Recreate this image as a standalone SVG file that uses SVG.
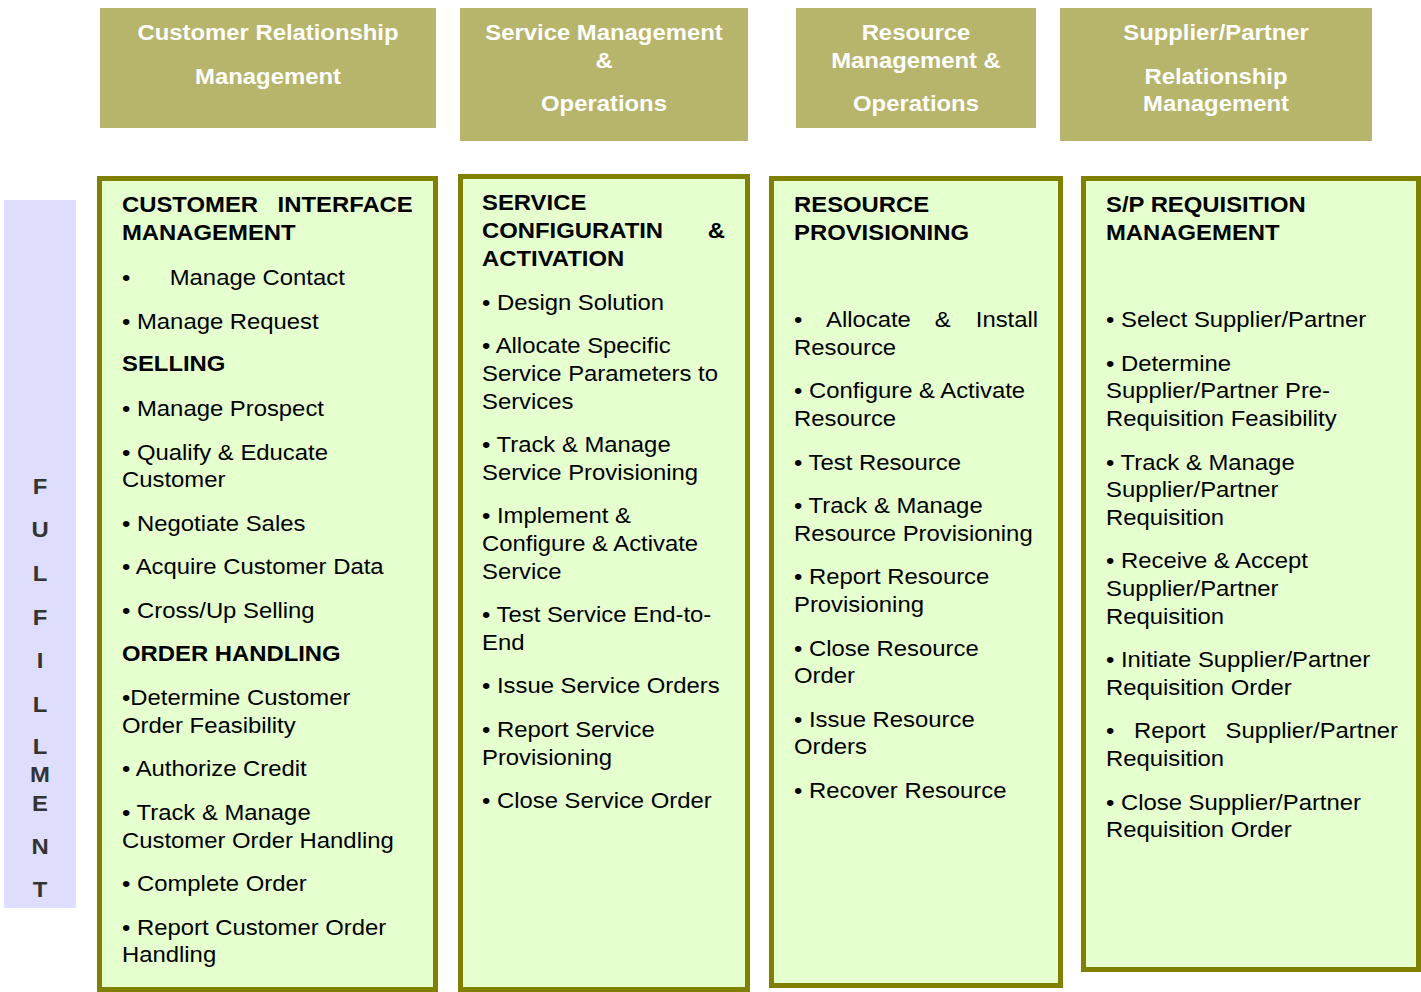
<svg xmlns="http://www.w3.org/2000/svg" width="1421" height="992" viewBox="0 0 1421 992">
<style>
text{font-family:"Liberation Sans",Arial,sans-serif;font-size:22px;fill:#000}
.hd{fill:#B7B46B}
.ht{fill:#fff;font-weight:bold;text-anchor:middle}
.pn{fill:#E6FFCE;stroke:#808000;stroke-width:5}
.b{font-weight:bold}
.fl{fill:#333;font-weight:bold;text-anchor:middle}
</style>
<rect width="1421" height="992" fill="#fff"/>
<g id="fulfillment">
<rect x="4" y="200" width="72" height="708" fill="#DEDEFC"/>
<g transform="translate(40 0) scale(1.085 1)">
<text class="fl" x="0" y="494">F</text>
<text class="fl" x="0" y="537">U</text>
<text class="fl" x="0" y="581">L</text>
<text class="fl" x="0" y="625">F</text>
<text class="fl" x="0" y="668">I</text>
<text class="fl" x="0" y="712">L</text>
<text class="fl" x="0" y="754">L</text>
<text class="fl" x="0" y="782">M</text>
<text class="fl" x="0" y="811">E</text>
<text class="fl" x="0" y="854">N</text>
<text class="fl" x="0" y="897">T</text>
</g>
</g>
<g id="hdr-crm">
<rect class="hd" x="100" y="8" width="336" height="120"/>
<g transform="translate(268 0) scale(1.085 1)">
<text class="ht" x="0" y="40">Customer Relationship</text>
<text class="ht" x="0" y="84">Management</text>
</g>
</g>
<g id="hdr-smo">
<rect class="hd" x="460" y="8" width="288" height="133"/>
<g transform="translate(604 0) scale(1.085 1)">
<text class="ht" x="0" y="40">Service Management</text>
<text class="ht" x="0" y="68">&amp;</text>
<text class="ht" x="0" y="111">Operations</text>
</g>
</g>
<g id="hdr-rmo">
<rect class="hd" x="796" y="8" width="240" height="120"/>
<g transform="translate(916 0) scale(1.085 1)">
<text class="ht" x="0" y="40">Resource</text>
<text class="ht" x="0" y="68">Management &amp;</text>
<text class="ht" x="0" y="111">Operations</text>
</g>
</g>
<g id="hdr-sprm">
<rect class="hd" x="1060" y="8" width="312" height="133"/>
<g transform="translate(1216 0) scale(1.085 1)">
<text class="ht" x="0" y="40">Supplier/Partner</text>
<text class="ht" x="0" y="84">Relationship</text>
<text class="ht" x="0" y="111">Management</text>
</g>
</g>
<g id="panel-cim">
<rect class="pn" x="99.5" y="178.5" width="336" height="811"/>
<g transform="translate(122 0) scale(1.085 1)">
<text class="b" x="0" y="212">CUSTOMER</text>
<text class="b" x="268" y="212" text-anchor="end">INTERFACE</text>
<text class="b" x="0" y="240">MANAGEMENT</text>
<text x="0" y="285">•</text>
<text x="44" y="285">Manage Contact</text>
<text x="0" y="329">• Manage Request</text>
<text class="b" x="0" y="371">SELLING</text>
<text x="0" y="416">• Manage Prospect</text>
<text x="0" y="460">• Qualify &amp; Educate</text>
<text x="0" y="487">Customer</text>
<text x="0" y="531">• Negotiate Sales</text>
<text x="0" y="574">• Acquire Customer Data</text>
<text x="0" y="618">• Cross/Up Selling</text>
<text class="b" x="0" y="661">ORDER HANDLING</text>
<text x="0" y="705">•Determine Customer</text>
<text x="0" y="733">Order Feasibility</text>
<text x="0" y="776">• Authorize Credit</text>
<text x="0" y="820">• Track &amp; Manage</text>
<text x="0" y="848">Customer Order Handling</text>
<text x="0" y="891">• Complete Order</text>
<text x="0" y="935">• Report Customer Order</text>
<text x="0" y="962">Handling</text>
</g>
</g>
<g id="panel-sca">
<rect class="pn" x="460.5" y="176.5" width="287" height="813"/>
<g transform="translate(482 0) scale(1.085 1)">
<text class="b" x="0" y="210">SERVICE</text>
<text class="b" x="0" y="238">CONFIGURATIN</text>
<text class="b" x="224" y="238" text-anchor="end">&amp;</text>
<text class="b" x="0" y="266">ACTIVATION</text>
<text x="0" y="310">• Design Solution</text>
<text x="0" y="353">• Allocate Specific</text>
<text x="0" y="381">Service Parameters to</text>
<text x="0" y="409">Services</text>
<text x="0" y="452">• Track &amp; Manage</text>
<text x="0" y="480">Service Provisioning</text>
<text x="0" y="523">• Implement &amp;</text>
<text x="0" y="551">Configure &amp; Activate</text>
<text x="0" y="579">Service</text>
<text x="0" y="622">• Test Service End-to-</text>
<text x="0" y="650">End</text>
<text x="0" y="693">• Issue Service Orders</text>
<text x="0" y="737">• Report Service</text>
<text x="0" y="765">Provisioning</text>
<text x="0" y="808">• Close Service Order</text>
</g>
</g>
<g id="panel-rp">
<rect class="pn" x="771.5" y="178.5" width="289" height="807"/>
<g transform="translate(794 0) scale(1.085 1)">
<text class="b" x="0" y="212">RESOURCE</text>
<text class="b" x="0" y="240">PROVISIONING</text>
<text x="0" y="327">•</text>
<text x="29.5" y="327">Allocate</text>
<text x="137" y="327" text-anchor="middle">&amp;</text>
<text x="225" y="327" text-anchor="end">Install</text>
<text x="0" y="355">Resource</text>
<text x="0" y="398">• Configure &amp; Activate</text>
<text x="0" y="426">Resource</text>
<text x="0" y="470">• Test Resource</text>
<text x="0" y="513">• Track &amp; Manage</text>
<text x="0" y="541">Resource Provisioning</text>
<text x="0" y="584">• Report Resource</text>
<text x="0" y="612">Provisioning</text>
<text x="0" y="656">• Close Resource</text>
<text x="0" y="683">Order</text>
<text x="0" y="727">• Issue Resource</text>
<text x="0" y="754">Orders</text>
<text x="0" y="798">• Recover Resource</text>
</g>
</g>
<g id="panel-spr">
<rect class="pn" x="1083.5" y="178.5" width="335" height="791"/>
<g transform="translate(1106 0) scale(1.085 1)">
<text class="b" x="0" y="212">S/P REQUISITION</text>
<text class="b" x="0" y="240">MANAGEMENT</text>
<text x="0" y="327">• Select Supplier/Partner</text>
<text x="0" y="371">• Determine</text>
<text x="0" y="398">Supplier/Partner Pre-</text>
<text x="0" y="426">Requisition Feasibility</text>
<text x="0" y="470">• Track &amp; Manage</text>
<text x="0" y="497">Supplier/Partner</text>
<text x="0" y="525">Requisition</text>
<text x="0" y="568">• Receive &amp; Accept</text>
<text x="0" y="596">Supplier/Partner</text>
<text x="0" y="624">Requisition</text>
<text x="0" y="667">• Initiate Supplier/Partner</text>
<text x="0" y="695">Requisition Order</text>
<text x="0" y="738">•</text>
<text x="25.8" y="738">Report</text>
<text x="269" y="738" text-anchor="end">Supplier/Partner</text>
<text x="0" y="766">Requisition</text>
<text x="0" y="810">• Close Supplier/Partner</text>
<text x="0" y="837">Requisition Order</text>
</g>
</g>
<g id="connectors"></g>
</svg>
